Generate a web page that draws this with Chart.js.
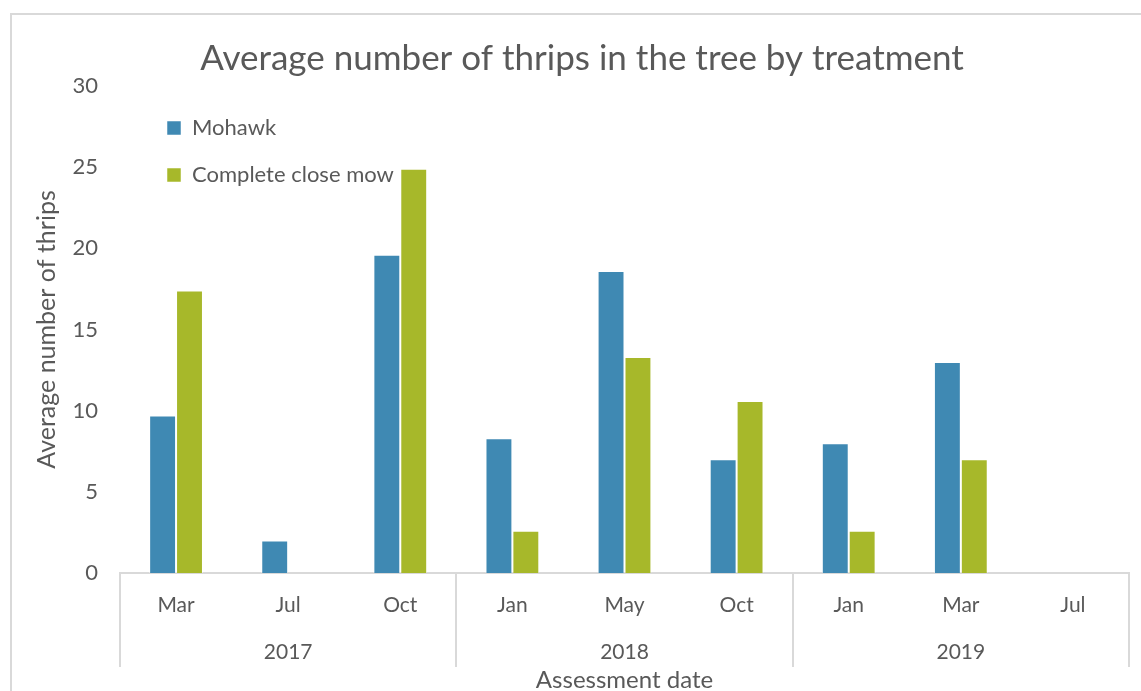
<!DOCTYPE html>
<html>
<head>
<meta charset="utf-8">
<script src="https://cdn.jsdelivr.net/npm/chart.js@4/dist/chart.umd.min.js"></script>
<style>
  html, body { margin: 0; padding: 0; background: #ffffff; overflow: hidden; }
  #frame { position: absolute; left: 10px; top: 13px; width: 1200px; height: 800px;
           border: 2px solid #d9d9d9; box-sizing: border-box; }
  #wrap { position: absolute; left: 0; top: 0; width: 1141px; height: 691px; }
</style>
</head>
<body>
<div id="frame"></div>
<div id="wrap"><canvas id="chart" width="1141" height="691"></canvas></div>
<script>
// Assessment dates: month labels, grouped by year
const months = ['Mar', 'Jul', 'Oct', 'Jan', 'May', 'Oct', 'Jan', 'Mar', 'Jul'];
const years = ['2017', '2018', '2019'];
const monthsPerYear = [3, 3, 3];

// Average thrips counts per treatment
const mohawk = [9.7, 2.0, 19.6, 8.3, 18.6, 7.0, 8.0, 13.0, null];
const completeCloseMow = [17.4, 0, 24.9, 2.6, 13.3, 10.6, 2.6, 7.0, null];

// Value axis ticks
const yMin = 0, yMax = 30, yStep = 5;

// Year row: each year label sits under the middle month of its group
const yearRow = [];
years.forEach((yr, i) => {
  const n = monthsPerYear[i];
  for (let k = 0; k < n; k++) yearRow.push(k === Math.floor(n / 2) ? yr : '');
});

const textColor = '#595959';
const lineColor = '#d9d9d9';
const fontFamily = 'Lato, "Open Sans", sans-serif';

// Vertical dividers between year groups, spanning both label rows
const groupDividers = {
  id: 'groupDividers',
  afterDraw(chart) {
    const xs = chart.scales.x, ys = chart.scales.years;
    const ctx = chart.ctx;
    const step = (xs.right - xs.left) / months.length;
    const bounds = [0];
    monthsPerYear.forEach(n => bounds.push(bounds[bounds.length - 1] + n));
    ctx.save();
    ctx.strokeStyle = lineColor;
    ctx.lineWidth = 2;
    bounds.forEach(b => {
      const px = Math.round(xs.left + b * step);
      ctx.beginPath();
      ctx.moveTo(px, xs.top);
      ctx.lineTo(px, ys.top + 43);
      ctx.stroke();
    });
    ctx.restore();
  }
};

// Legend inside the plot near its top-left corner; title centred over the framed box
const placement = {
  id: 'placement',
  afterLayout(chart) {
    const lg = chart.legend, ca = chart.chartArea;
    if (lg) {
      const w = lg.width, h = lg.height;
      lg.left = ca.left + 22;
      lg.top = ca.top + 6;
      lg.right = lg.left + w;
      lg.bottom = lg.top + h;
    }
    const tb = chart.titleBlock;
    if (tb) {
      tb.left += 35;
      tb.width = tb.right - tb.left;
    }
  }
};

new Chart(document.getElementById('chart'), {
  type: 'bar',
  data: {
    labels: months,
    datasets: [
      { label: 'Mohawk', data: mohawk, backgroundColor: '#3f89b3',
        borderColor: 'rgba(255,255,255,0.5)', borderWidth: 1 },
      { label: 'Complete close mow', data: completeCloseMow, backgroundColor: '#a7b82a',
        borderColor: 'rgba(255,255,255,0.5)', borderWidth: 1 }
    ]
  },
  options: {
    responsive: false,
    animation: false,
    layout: { padding: { left: 0, right: 12, top: 0, bottom: 0 } },
    datasets: { bar: { categoryPercentage: 0.48, barPercentage: 1.0 } },
    plugins: {
      title: {
        display: true,
        text: 'Average number of thrips in the tree by treatment',
        color: textColor,
        font: { family: fontFamily, size: 35, weight: 'normal' },
        padding: { top: 38, bottom: 6 }
      },
      legend: {
        position: 'chartArea',
        align: 'start',
        labels: {
          color: textColor,
          font: { family: fontFamily, size: 22 },
          boxWidth: 14,
          boxHeight: 14,
          padding: 25
        }
      },
      tooltip: { enabled: false }
    },
    scales: {
      y: {
        min: yMin,
        max: yMax,
        ticks: { stepSize: yStep, color: textColor, padding: 14,
                 font: { family: fontFamily, size: 22 } },
        grid: { display: false },
        border: { display: false },
        title: { display: true, text: 'Average number of thrips', color: textColor,
                 font: { family: fontFamily, size: 25 }, padding: { top: 32, bottom: 0 } },
        afterFit(scale) { scale.width = 120; }
      },
      x: {
        position: 'bottom',
        offset: true,
        ticks: { color: textColor, padding: 20, autoSkip: false, maxRotation: 0,
                 font: { family: fontFamily, size: 21 } },
        grid: { display: false, drawTicks: false },
        border: { display: true, color: lineColor, width: 2 },
        afterFit(scale) { scale.height = 51; }
      },
      years: {
        type: 'category',
        position: 'bottom',
        labels: yearRow,
        offset: true,
        weight: 1,
        ticks: { color: textColor, padding: 16, autoSkip: false, maxRotation: 0,
                 font: { family: fontFamily, size: 21 } },
        grid: { display: false, drawTicks: false },
        border: { display: false },
        title: { display: true, text: 'Assessment date', color: textColor,
                 font: { family: fontFamily, size: 24 }, padding: { top: 0, bottom: -4 } },
        afterFit(scale) { scale.height = 67; }
      }
    }
  },
  plugins: [groupDividers, placement]
});
</script>
</body>
</html>
